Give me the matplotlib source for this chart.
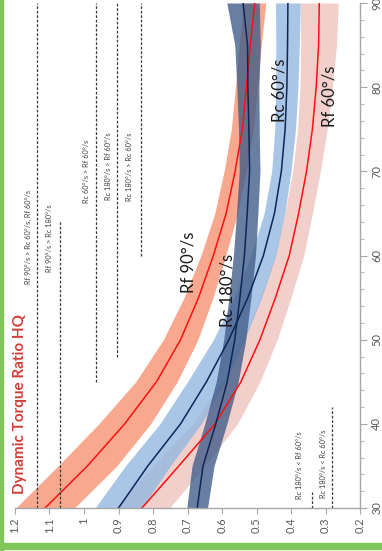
import matplotlib
matplotlib.use("Agg")
import matplotlib.pyplot as plt
from matplotlib.ticker import MultipleLocator
from matplotlib.patches import Rectangle

plt.rcParams['font.family'] = ['Lato', 'DejaVu Sans']

# angle (deg) and mean +/- sd of the torque ratio for each condition
angles = [30, 35, 40, 45, 50, 55, 60, 65, 70, 75, 80, 85, 90]
rf90_mean = [1.113, 0.99, 0.882, 0.79, 0.72, 0.668, 0.625, 0.588, 0.562, 0.541, 0.529, 0.518, 0.505]
rf90_sd = [0.085, 0.085, 0.075, 0.06, 0.05, 0.042, 0.036, 0.033, 0.032, 0.032, 0.032, 0.032, 0.032]
rc180_mean = [0.672, 0.655, 0.618, 0.585, 0.563, 0.548, 0.535, 0.527, 0.52, 0.522, 0.525, 0.526, 0.539]
rc180_sd = [0.03, 0.032, 0.032, 0.032, 0.032, 0.032, 0.032, 0.031, 0.03, 0.03, 0.032, 0.037, 0.047]
rc60_mean = [0.90, 0.815, 0.72, 0.645, 0.58, 0.525, 0.48, 0.448, 0.428, 0.417, 0.412, 0.41, 0.409]
rc60_sd = [0.068, 0.065, 0.06, 0.055, 0.045, 0.04, 0.036, 0.03, 0.028, 0.03, 0.032, 0.034, 0.036]
rf60_mean = [0.832, 0.725, 0.62, 0.545, 0.49, 0.445, 0.405, 0.378, 0.355, 0.338, 0.327, 0.32, 0.318]
rf60_sd = [0.08, 0.075, 0.065, 0.055, 0.05, 0.045, 0.042, 0.04, 0.04, 0.043, 0.047, 0.052, 0.055]

# significance bars: (ratio level, angle from, angle to, label, label ratio, label angle)
sig_bars = [
    (1.136, 30, 90, "Rf 90°/s > Rc 60°/s, Rf 60°/s", 1.162, 62.2),
    (1.070, 30, 64.2, "Rf 90°/s > Rc 180°/s", 1.099, 62.1),
    (0.964, 45, 90, "Rc 60°/s > Rf 60°/s", 0.994, 70.0),
    (0.904, 48, 90, "Rc 180°/s > Rf 60°/s", 0.930, 70.6),
    (0.835, 60, 90, "Rc 180°/s > Rc 60°/s", 0.867, 70.6),
    (0.339, 30, 31.9, "Rc 180°/s < Rf 60°/s", 0.374, 35.1),
    (0.281, 30, 42, "Rc 180°/s < Rc 60°/s", 0.307, 35.3),
]

x_ticks = [1.2, 1.1, 1.0, 0.9, 0.8, 0.7, 0.6, 0.5, 0.4, 0.3, 0.2]
x_ticklabels = ["1.2", "1.1", "1", "0.9", "0.8", "0.7", "0.6", "0.5", "0.4", "0.3", "0.2"]
y_ticks = [30, 40, 50, 60, 70, 80, 90]

fig = plt.figure(figsize=(3.82, 5.51), dpi=100)
ax = fig.add_axes([15 / 382, 43 / 551, 345 / 382, 505 / 551])

def band(mean, sd, fill, alpha, line):
    lo = [m - s for m, s in zip(mean, sd)]
    hi = [m + s for m, s in zip(mean, sd)]
    ax.fill_betweenx(angles, lo, hi, color=fill, alpha=alpha, linewidth=0)
    ax.plot(mean, angles, color=line, linewidth=1.1)

band(rf60_mean, rf60_sd, "#F0CBC7", 0.9, "#FF1010")
band(rc60_mean, rc60_sd, "#94B8E2", 0.8, "#0E2657")
band(rf90_mean, rf90_sd, "#F7A488", 0.95, "#FF1010")
band(rc180_mean, rc180_sd, "#3F5B88", 0.78, "#0E2657")

for lvl, a0, a1, txt, tx, ty in sig_bars:
    ax.plot([lvl, lvl], [a0, a1], color="#3a3a3a", linestyle=(0, (2.2, 1.4)), linewidth=0.9)
    ax.text(tx, ty, txt, rotation=90, ha="center", va="center", fontsize=5.3, color="#404040")

ax.text(0.696, 59.2, "Rf 90°/s", rotation=90, ha="center", va="center", fontsize=12, color="#1a1a1a")
ax.text(0.583, 55.8, "Rc 180°/s", rotation=90, ha="center", va="center", fontsize=12, color="#1a1a1a")
ax.text(0.432, 79.6, "Rc 60°/s", rotation=90, ha="center", va="center", fontsize=12, color="#1a1a1a")
ax.text(0.287, 78.9, "Rf 60°/s", rotation=90, ha="center", va="center", fontsize=12, color="#1a1a1a")

ax.text(1.186, 42.4, "Dynamic Torque Ratio HQ", rotation=90, ha="center", va="center",
        fontsize=11, fontweight="bold", color="#CF3F3A")

ax.set_xlim(1.2, 0.2)
ax.set_ylim(30, 90)
ax.set_xticks(x_ticks)
ax.set_xticklabels(x_ticklabels, rotation=90)
ax.set_yticks(y_ticks)
ax.set_yticklabels([str(t) for t in y_ticks], rotation=90, va="center")
ax.yaxis.set_minor_locator(MultipleLocator(2))
ax.yaxis.tick_right()
ax.tick_params(axis="x", direction="out", length=4, color="#A6A6A6", labelsize=8, labelcolor="#595959", pad=3)
ax.tick_params(axis="y", which="both", direction="out", color="#A6A6A6", labelsize=8, labelcolor="#595959", pad=3)
ax.tick_params(axis="y", which="major", length=5)
ax.tick_params(axis="y", which="minor", length=3)
for side in ["top", "left"]:
    ax.spines[side].set_visible(False)
for side in ["bottom", "right"]:
    ax.spines[side].set_color("#A6A6A6")
    ax.spines[side].set_linewidth(1.0)

# green frame strips on the left and the bottom
fig.patches.append(Rectangle((0, 0), 3 / 382, 1, transform=fig.transFigure, color="#80C65A", zorder=0))
fig.patches.append(Rectangle((0, 2 / 551), 1, 6 / 551, transform=fig.transFigure, color="#80C65A", zorder=0))

fig.savefig("out.png", dpi=100)
